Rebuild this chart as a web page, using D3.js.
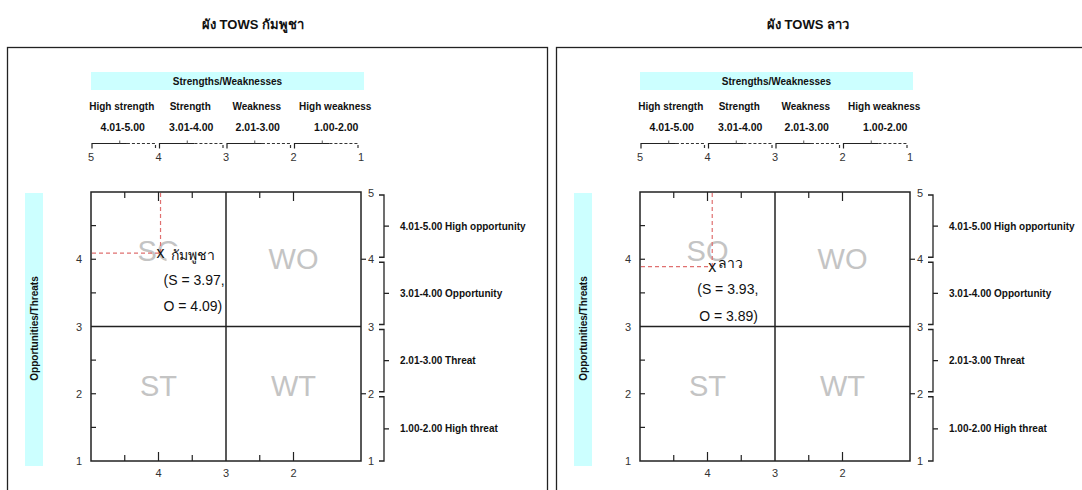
<!DOCTYPE html>
<html><head><meta charset="utf-8">
<script src="https://cdn.jsdelivr.net/npm/d3@7"></script>
<style>
html,body{margin:0;padding:0;background:#fff;}
svg text{font-family:"Liberation Sans",Arial,"Noto Sans",sans-serif;}
</style></head>
<body>
<svg id="c" width="1082" height="490"></svg>
<script>
// ---- data ----
const panelTitles = ["ผัง TOWS กัมพูชา", "ผัง TOWS ลาว"];
const countryNames = ["กัมพูชา", "ลาว"];
const strengthScores = [3.97, 3.93];
const opportunityScores = [4.09, 3.89];
const swCategories = ["High strength", "Strength", "Weakness", "High weakness"];
const swRanges = ["4.01-5.00", "3.01-4.00", "2.01-3.00", "1.00-2.00"];
const bandStarts = [5, 4, 3, 2];
const bandEnds = [4, 3, 2, 1];
const otLabels = ["4.01-5.00 High opportunity", "3.01-4.00 Opportunity", "2.01-3.00 Threat", "1.00-2.00 High threat"];
const quadrantNames = ["SO", "WO", "ST", "WT"];
const quadrantS = [4, 2, 4, 2];
const quadrantO = [4, 4, 2, 2];
const scaleTicks = [5, 4, 3, 2, 1];
const bottomTickLabels = [4, 3, 2];
const leftTickLabels = [4, 3, 2, 1];
const rightTickLabels = [5, 4, 3, 2, 1];
const xMajorTicks = [4, 2];
const xMinorTicks = [4.5, 3.5, 2.5];
const yTicks = [4.5, 4, 3.5, 2.5, 2, 1.5];

// ---- layout / style ----
const plotLefts = [91, 640];
const panelLefts = [7.5, 556.5];
const titleX = [253, 808];
const plotTop = 192, plotW = 270, plotH = 269;
const catNudge = [-3, -2, -3, 8];
const labelOffsets = [
  {name: [10, 2], l1: [3, 27], l2: [3, 53], bg: true},
  {name: [6, -4], l1: [-15, 22], l2: [-13, 49], bg: false}
];
const quadNudge = [-8, 0, -8, -8];

const svg = d3.select("#c");

panelTitles.forEach((title, p) => {
  const L = plotLefts[p];
  const x = d3.scaleLinear().domain([5, 1]).range([L, L + plotW]);
  const y = d3.scaleLinear().domain([5, 1]).range([plotTop, plotTop + plotH]);
  const g = svg.append("g");

  // panel frame
  g.append("rect").attr("x", panelLefts[p]).attr("y", 47.5)
    .attr("width", 540).attr("height", 480)
    .attr("fill", "none").attr("stroke", "#222").attr("stroke-width", 1.3);

  // title
  g.append("text").attr("x", titleX[p]).attr("y", 29).attr("text-anchor", "middle")
    .attr("font-size", 13).attr("font-weight", "bold").attr("fill", "#111").text(title);

  // Strengths/Weaknesses band
  g.append("rect").attr("x", x(5)).attr("y", 72).attr("width", plotW + 3).attr("height", 18)
    .attr("fill", "#ccffff");
  g.append("text").attr("x", x(5) + (plotW + 3) / 2).attr("y", 84.5).attr("text-anchor", "middle")
    .attr("font-size", 10).attr("font-weight", "bold").attr("fill", "#111").text("Strengths/Weaknesses");

  // category labels + ranges
  swCategories.forEach((c, i) => {
    const cx = x((bandStarts[i] + bandEnds[i]) / 2) + catNudge[i];
    g.append("text").attr("x", cx).attr("y", 110).attr("text-anchor", "middle")
      .attr("font-size", 10).attr("font-weight", "bold").attr("fill", "#111").text(c);
    g.append("text").attr("x", cx + 1).attr("y", 131).attr("text-anchor", "middle")
      .attr("font-size", 10.5).attr("font-weight", "bold").attr("fill", "#111").text(swRanges[i]);
    // bracket
    const x0 = x(bandStarts[i]) + 1, x1 = x(bandEnds[i]) - 3;
    const by = 143.5;
    g.append("path").attr("d", `M${x0},${by + 5}V${by}H${x0 + (x1 - x0) * 0.55}`)
      .attr("fill", "none").attr("stroke", "#222").attr("stroke-width", 1.2);
    g.append("path").attr("d", `M${x0 + (x1 - x0) * 0.55},${by}H${x1}V${by + 5}`)
      .attr("fill", "none").attr("stroke", "#333").attr("stroke-width", 1.2)
      .attr("stroke-dasharray", "3,2");
    g.append("line").attr("x1", (x0 + x1) / 2 - 4).attr("x2", (x0 + x1) / 2 - 4)
      .attr("y1", by).attr("y2", by - 3).attr("stroke", "#555").attr("stroke-width", 1);
  });
  scaleTicks.forEach(t => {
    g.append("text").attr("x", x(t)).attr("y", 161).attr("text-anchor", "middle")
      .attr("font-size", 11).attr("fill", "#333").text(t);
  });

  // Opportunities/Threats band
  g.append("rect").attr("x", L - 66).attr("y", plotTop + 1).attr("width", 18).attr("height", plotH + 4)
    .attr("fill", "#ccffff");
  g.append("text").attr("transform", `translate(${L - 53.5},${plotTop + (plotH + 4) / 2}) rotate(-90)`)
    .attr("text-anchor", "middle").attr("font-size", 10).attr("font-weight", "bold")
    .attr("fill", "#111").text("Opportunities/Threats");

  // quadrant labels
  quadrantNames.forEach((q, i) => {
    g.append("text").attr("x", x(quadrantS[i])).attr("y", y(quadrantO[i]) + quadNudge[i] + 10)
      .attr("text-anchor", "middle").attr("font-size", 29).attr("fill", "#c4c4c4").text(q);
  });

  // ticks
  xMajorTicks.forEach(t => {
    g.append("line").attr("x1", x(t)).attr("x2", x(t)).attr("y1", plotTop).attr("y2", plotTop + 9)
      .attr("stroke", "#222").attr("stroke-width", 1.2);
    g.append("line").attr("x1", x(t)).attr("x2", x(t)).attr("y1", plotTop + plotH).attr("y2", plotTop + plotH - 9)
      .attr("stroke", "#222").attr("stroke-width", 1.2);
  });
  xMinorTicks.forEach(t => {
    g.append("line").attr("x1", x(t)).attr("x2", x(t)).attr("y1", plotTop).attr("y2", plotTop + 6)
      .attr("stroke", "#222").attr("stroke-width", 1.2);
    g.append("line").attr("x1", x(t)).attr("x2", x(t)).attr("y1", plotTop + plotH).attr("y2", plotTop + plotH - 6)
      .attr("stroke", "#222").attr("stroke-width", 1.2);
  });
  yTicks.forEach(t => {
    g.append("line").attr("x1", L).attr("x2", L + 5).attr("y1", y(t)).attr("y2", y(t))
      .attr("stroke", "#222").attr("stroke-width", 1.2);
  });
  [4, 2].forEach(t => {
    g.append("line").attr("x1", L + plotW).attr("x2", L + plotW + 5).attr("y1", y(t)).attr("y2", y(t))
      .attr("stroke", "#222").attr("stroke-width", 1.2);
  });

  // box and quadrant dividers
  g.append("rect").attr("x", L).attr("y", plotTop).attr("width", plotW).attr("height", plotH)
    .attr("fill", "none").attr("stroke", "#222").attr("stroke-width", 1.5);
  g.append("line").attr("x1", x(3)).attr("x2", x(3)).attr("y1", plotTop).attr("y2", plotTop + plotH)
    .attr("stroke", "#222").attr("stroke-width", 1.5);
  g.append("line").attr("x1", L).attr("x2", L + plotW).attr("y1", y(3)).attr("y2", y(3))
    .attr("stroke", "#222").attr("stroke-width", 1.5);

  // axis labels
  bottomTickLabels.forEach(t => {
    g.append("text").attr("x", x(t)).attr("y", plotTop + plotH + 16).attr("text-anchor", "middle")
      .attr("font-size", 11).attr("fill", "#333").text(t);
  });
  leftTickLabels.forEach(t => {
    g.append("text").attr("x", L - 12).attr("y", y(t) + 4).attr("text-anchor", "middle")
      .attr("font-size", 11).attr("fill", "#333").text(t);
  });
  rightTickLabels.forEach(t => {
    g.append("text").attr("x", L + plotW + 7).attr("y", y(t) + 4 - (t === 5 ? -1 : 0))
      .attr("text-anchor", "start").attr("font-size", 11).attr("fill", "#333").text(t);
  });

  // right-side brackets
  const bx = L + plotW + 23;
  otLabels.forEach((lab, i) => {
    const y0 = y(bandStarts[i]) + 3, y1 = y(bandEnds[i]) - (i === 3 ? 0 : 2);
    g.append("path").attr("d", `M${bx - 5},${y0}H${bx}V${y1}H${bx - 5}`)
      .attr("fill", "none").attr("stroke", "#222").attr("stroke-width", 1.3);
    const ym = (y0 + y1) / 2;
    g.append("line").attr("x1", bx).attr("x2", bx + 5).attr("y1", ym).attr("y2", ym)
      .attr("stroke", "#222").attr("stroke-width", 1.3);
    g.append("text").attr("x", bx + 16).attr("y", ym + 3.5).attr("font-size", 10).attr("font-weight", "bold")
      .attr("fill", "#111").text(lab);
  });

  // point with guide lines
  const sx = x(strengthScores[p]), oy = y(opportunityScores[p]);
  g.append("line").attr("x1", sx).attr("x2", sx).attr("y1", plotTop + 1).attr("y2", oy)
    .attr("stroke", "#e07070").attr("stroke-width", 1.2).attr("stroke-dasharray", "4,3");
  g.append("line").attr("x1", L + 1).attr("x2", sx).attr("y1", oy).attr("y2", oy)
    .attr("stroke", "#e07070").attr("stroke-width", 1.2).attr("stroke-dasharray", "4,3");
  g.append("text").attr("x", sx).attr("y", oy + 5).attr("text-anchor", "middle")
    .attr("font-size", 16).attr("fill", "#111").text("x");

  const off = labelOffsets[p];
  const nameText = g.append("text").attr("x", sx + off.name[0]).attr("y", oy + off.name[1] + 5)
    .attr("font-size", 14).attr("fill", "#111").text(countryNames[p]);
  if (off.bg) {
    const bb = nameText.node().getBBox();
    g.insert("rect", () => nameText.node()).attr("x", bb.x - 4).attr("y", bb.y - 1)
      .attr("width", bb.width + 6).attr("height", bb.height + 2).attr("fill", "#fff");
  }
  g.append("text").attr("x", sx + off.l1[0]).attr("y", oy + off.l1[1] + 5)
    .attr("font-size", 14).attr("fill", "#111")
    .text(`(S = ${strengthScores[p].toFixed(2)},`);
  g.append("text").attr("x", sx + off.l2[0]).attr("y", oy + off.l2[1] + 5)
    .attr("font-size", 14).attr("fill", "#111")
    .text(`O = ${opportunityScores[p].toFixed(2)})`);
});
</script>
</body></html>
